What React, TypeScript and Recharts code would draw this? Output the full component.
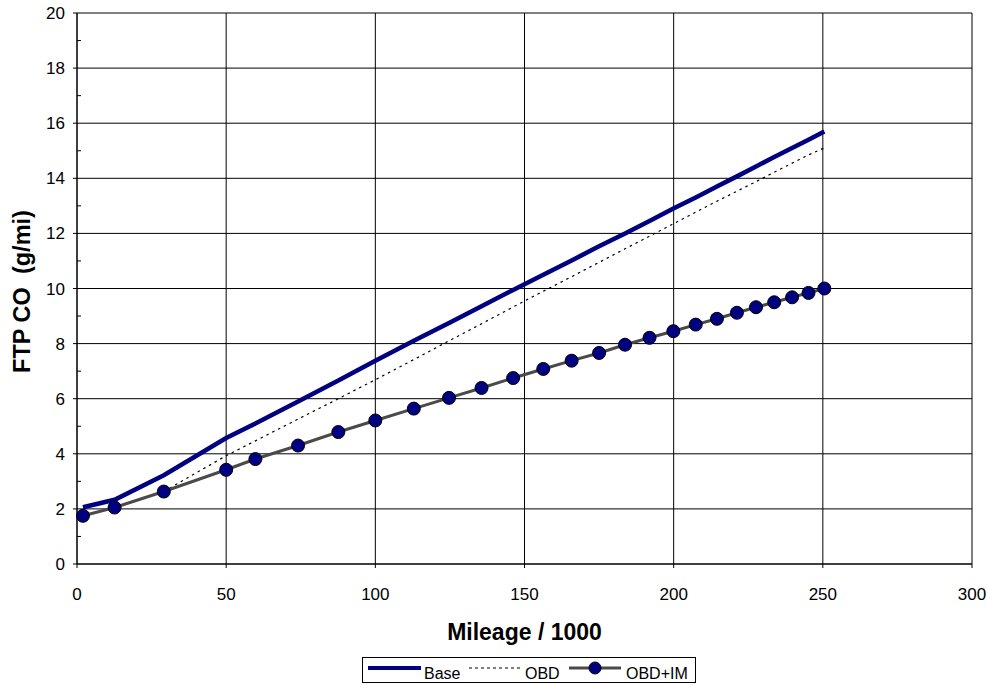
import React from 'react';
import {
  LineChart,
  Line,
  XAxis,
  YAxis,
  CartesianGrid,
  ReferenceLine,
  Label
} from 'recharts';

// mileage (thousands) at each sample
const mileage = [2, 12.6, 29.1, 50, 59.8, 74.1, 87.6, 100, 112.9, 124.7, 135.6, 146.2, 156.3, 165.8, 175, 183.7, 191.9, 199.9, 207.4, 214.5, 221.2, 227.6, 233.7, 239.7, 245.2, 250.5];

const base = [2.06, 2.33, 3.22, 4.57, 5.1, 5.9, 6.66, 7.38, 8.1, 8.75, 9.36, 9.95, 10.5, 11.02, 11.53, 12.0, 12.45, 12.9, 13.3, 13.7, 14.07, 14.43, 14.77, 15.1, 15.4, 15.7];

const obd = [1.75, 2.05, 2.63, 3.93, 4.47, 5.26, 6.0, 6.69, 7.42, 8.1, 8.72, 9.33, 9.9, 10.43, 10.95, 11.44, 11.9, 12.35, 12.77, 13.17, 13.53, 13.88, 14.22, 14.55, 14.85, 15.1];

const obdIm = [1.75, 2.05, 2.63, 3.42, 3.81, 4.3, 4.79, 5.21, 5.64, 6.03, 6.39, 6.75, 7.08, 7.38, 7.66, 7.96, 8.21, 8.45, 8.69, 8.9, 9.12, 9.32, 9.5, 9.68, 9.84, 10.0];

const xTicks = [0, 50, 100, 150, 200, 250, 300];
const yTicks = [0, 2, 4, 6, 8, 10, 12, 14, 16, 18, 20];
const yMinor = [1, 3, 5, 7, 9, 11, 13, 15, 17, 19];

const data = mileage.map((m, i) => ({
  m,
  base: base[i],
  obd: obd[i],
  obdIm: obdIm[i]
}));

const FONT = '"Liberation Sans", Arial, sans-serif';
const NAVY = '#000080';

const tickStyle = { fill: '#000', fontSize: 17, fontFamily: FONT };

const MinorTick = (p: any) => (
  <line x1={p.x1} x2={p.x1 + 4} y1={p.y1} y2={p.y1} stroke="#000" strokeWidth={1} />
);

const LegendBox = () => (
  <div
    style={{
      position: 'absolute',
      left: 362,
      top: 657,
      width: 332,
      height: 24,
      border: '1px solid #000',
      background: '#fff'
    }}
  >
    <svg width={332} height={24} style={{ display: 'block' }}>
      <line x1={5} x2={58} y1={10} y2={10} stroke={NAVY} strokeWidth={4} />
      <text x={61} y={21} fontSize={16} fontFamily={FONT}>Base</text>
      <line x1={106} x2={158} y1={10} y2={10} stroke="#000" strokeWidth={1.2} strokeDasharray="3 3" />
      <text x={162} y={21} fontSize={16} fontFamily={FONT}>OBD</text>
      <line x1={206} x2={258} y1={10} y2={10} stroke="#4a4a4a" strokeWidth={3} />
      <circle cx={232} cy={10} r={6} fill={NAVY} stroke="#000" strokeWidth={1} />
      <text x={263} y={21} fontSize={16} fontFamily={FONT}>OBD+IM</text>
    </svg>
  </div>
);

export default function App() {
  return (
    <div
      style={{
        position: 'relative',
        width: 987,
        height: 685,
        overflow: 'hidden',
        fontFamily: FONT
      }}
    >
      <style>{'body{margin:0}'}</style>
      <LineChart
        width={987}
        height={685}
        data={data}
        margin={{ top: 13, right: 15, bottom: 41, left: 0 }}
      >
        <CartesianGrid stroke="#000" strokeWidth={1} />
        <XAxis
          dataKey="m"
          type="number"
          domain={[0, 300]}
          ticks={xTicks}
          height={80}
          tickSize={4}
          tickMargin={20}
          tick={tickStyle}
          stroke="#000"
          interval={0}
        >
          <Label
            content={(p: any) => (
              <text
                x={p.viewBox.x + p.viewBox.width / 2}
                y={p.viewBox.y + 76}
                textAnchor="middle"
                fontSize={23}
                fontWeight="bold"
                fontFamily={FONT}
                fill="#000"
              >
                Mileage / 1000
              </text>
            )}
          />
        </XAxis>
        <YAxis
          type="number"
          domain={[0, 20]}
          ticks={yTicks}
          width={77}
          tickSize={4}
          tickMargin={8}
          tick={tickStyle}
          stroke="#000"
          interval={0}
        >
          <Label
            content={(p: any) => {
              const cx = 22;
              const cy = p.viewBox.y + p.viewBox.height / 2 + 3;
              return (
                <text
                  x={cx}
                  y={cy}
                  transform={`rotate(-90 ${cx} ${cy})`}
                  textAnchor="middle"
                  dominantBaseline="central"
                  fontSize={23.5}
                  fontWeight="bold"
                  fontFamily={FONT}
                  fill="#000"
                  style={{ whiteSpace: 'pre' }}
                >
                  {'FTP CO  (g/mi)'}
                </text>
              );
            }}
          />
        </YAxis>
        {yMinor.map((v) => (
          <ReferenceLine key={v} y={v} shape={MinorTick} />
        ))}
        <Line
          dataKey="base"
          stroke={NAVY}
          strokeWidth={4.5}
          dot={false}
          isAnimationActive={false}
        />
        <Line
          dataKey="obd"
          stroke="#000"
          strokeWidth={1.2}
          strokeDasharray="2.5 4"
          dot={false}
          isAnimationActive={false}
        />
        <Line
          dataKey="obdIm"
          stroke="#4a4a4a"
          strokeWidth={3}
          dot={{ r: 6.5, fill: NAVY, stroke: '#000', strokeWidth: 1 }}
          isAnimationActive={false}
        />
      </LineChart>
      <LegendBox />
    </div>
  );
}
